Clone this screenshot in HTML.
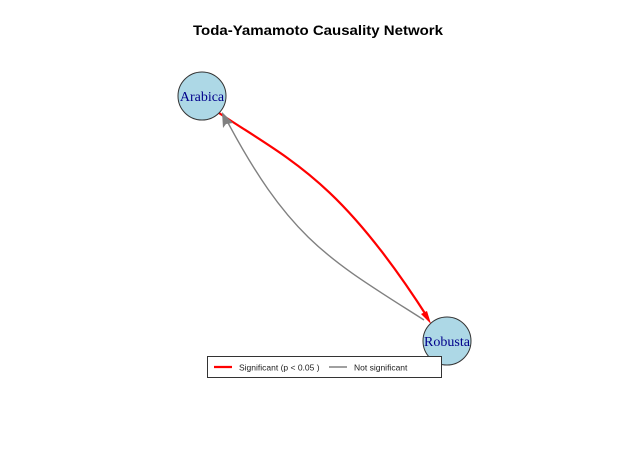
<!DOCTYPE html>
<html><head><meta charset="utf-8"><style>
html,body{margin:0;padding:0;background:#fff;width:620px;height:451px;overflow:hidden}
</style></head><body>
<svg width="620" height="451" viewBox="0 0 620 451" xmlns="http://www.w3.org/2000/svg">
<text x="318" y="35" text-anchor="middle" font-family="Liberation Sans, sans-serif" font-weight="bold" font-size="14" textLength="250" lengthAdjust="spacingAndGlyphs">Toda-Yamamoto Causality Network</text>
<path d="M219,113 C290,160 340,180 428,318" fill="none" stroke="red" stroke-width="2.2"/>
<path d="M431,324 L421,314 L427,311 Z" fill="red"/>
<path d="M424,320 C330,260 290,240 226,119" fill="none" stroke="#808080" stroke-width="1.4"/>
<path d="M222,112 L233,123 L226,124 L223,128 Z" fill="#808080"/>
<circle cx="202" cy="96" r="24" fill="#add8e6" stroke="#333" stroke-width="1"/>
<text x="202" y="101" text-anchor="middle" font-family="Liberation Serif, serif" font-size="14" fill="#00008b">Arabica</text>
<circle cx="447" cy="341" r="24" fill="#add8e6" stroke="#333" stroke-width="1"/>
<text x="447" y="346" text-anchor="middle" font-family="Liberation Serif, serif" font-size="14" fill="#00008b">Robusta</text>
<rect x="207.5" y="356.5" width="234" height="21" fill="#fff" stroke="#333" stroke-width="1"/>
<line x1="214" y1="367" x2="232" y2="367" stroke="red" stroke-width="2.2"/>
<text x="239" y="370.5" font-family="Liberation Sans, sans-serif" font-size="8.5" fill="#222">Significant (p &lt; 0.05 )</text>
<line x1="329" y1="367" x2="347" y2="367" stroke="#808080" stroke-width="1.4"/>
<text x="354" y="370.5" font-family="Liberation Sans, sans-serif" font-size="8.5" fill="#222">Not significant</text>
</svg>
</body></html>
